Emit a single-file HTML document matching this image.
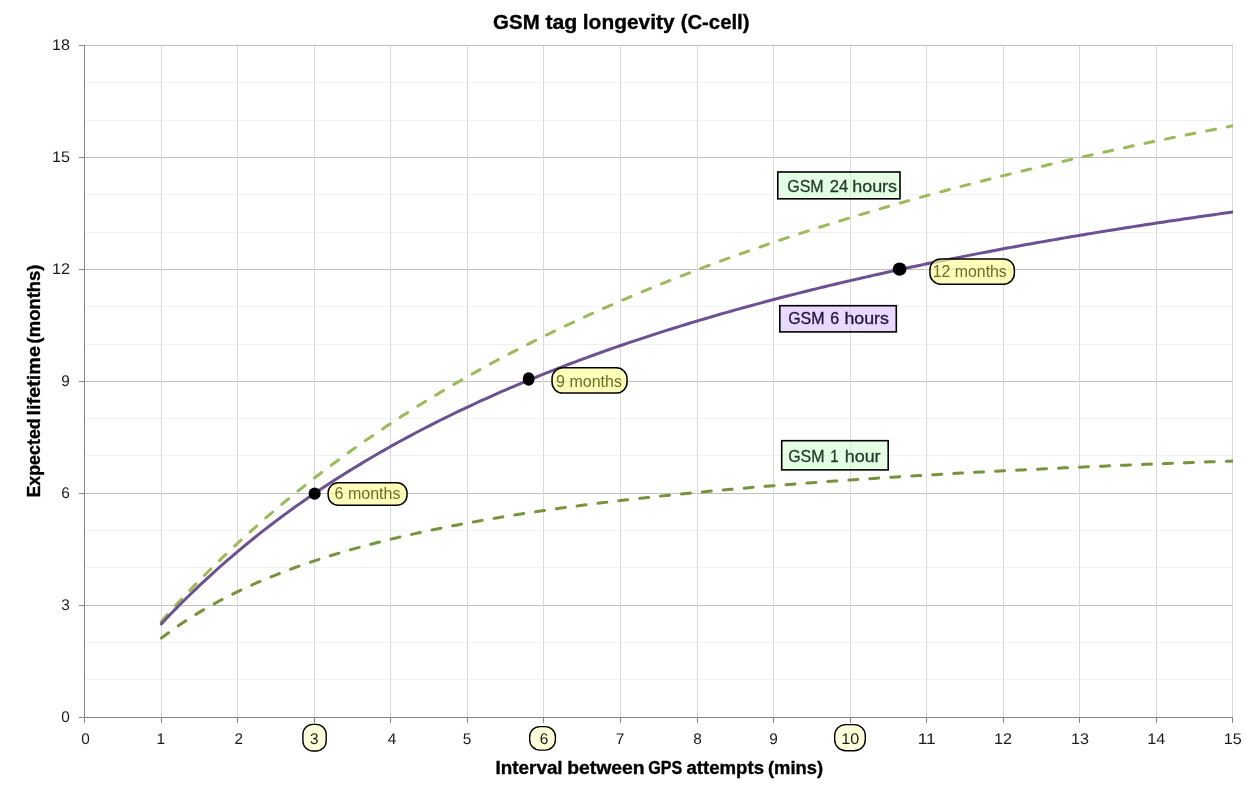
<!DOCTYPE html>
<html lang="en"><head><meta charset="utf-8"><title>GSM tag longevity (C-cell)</title>
<style>html,body{margin:0;padding:0;background:#fff;}body{width:1245px;height:803px;overflow:hidden;}svg{display:block;font-family:'Liberation Sans', sans-serif;}.tick{font-size:15.4px;fill:#1a1a1a;text-rendering:geometricPrecision;}.ttl{font-weight:bold;fill:#000;stroke:#000;stroke-width:0.35px;}.lab{font-size:16.4px;stroke-width:0.3px;}.mon{font-size:16px;fill:#6c6c2c;}</style></head><body>
<svg width="1245" height="803" viewBox="0 0 1245 803">
<rect width="1245" height="803" fill="#ffffff"/>
<g stroke="#f2f2f2" stroke-width="1" shape-rendering="crispEdges">
<line x1="84.5" y1="679.5" x2="1232.5" y2="679.5"/>
<line x1="84.5" y1="642.5" x2="1232.5" y2="642.5"/>
<line x1="84.5" y1="567.5" x2="1232.5" y2="567.5"/>
<line x1="84.5" y1="530.5" x2="1232.5" y2="530.5"/>
<line x1="84.5" y1="455.5" x2="1232.5" y2="455.5"/>
<line x1="84.5" y1="418.5" x2="1232.5" y2="418.5"/>
<line x1="84.5" y1="344.5" x2="1232.5" y2="344.5"/>
<line x1="84.5" y1="306.5" x2="1232.5" y2="306.5"/>
<line x1="84.5" y1="232.5" x2="1232.5" y2="232.5"/>
<line x1="84.5" y1="194.5" x2="1232.5" y2="194.5"/>
<line x1="84.5" y1="120.5" x2="1232.5" y2="120.5"/>
<line x1="84.5" y1="82.5" x2="1232.5" y2="82.5"/>
</g>
<g stroke="#bfbfbf" stroke-width="1" shape-rendering="crispEdges">
<line x1="84.5" y1="605.5" x2="1232.5" y2="605.5"/>
<line x1="84.5" y1="493.5" x2="1232.5" y2="493.5"/>
<line x1="84.5" y1="381.5" x2="1232.5" y2="381.5"/>
<line x1="84.5" y1="269.5" x2="1232.5" y2="269.5"/>
<line x1="84.5" y1="157.5" x2="1232.5" y2="157.5"/>
<line x1="84.5" y1="45.5" x2="1232.5" y2="45.5"/>
</g>
<g stroke="#d9d9d9" stroke-width="1" shape-rendering="crispEdges">
<line x1="161.5" y1="45.5" x2="161.5" y2="717.5"/>
<line x1="237.5" y1="45.5" x2="237.5" y2="717.5"/>
<line x1="314.5" y1="45.5" x2="314.5" y2="717.5"/>
<line x1="390.5" y1="45.5" x2="390.5" y2="717.5"/>
<line x1="467.5" y1="45.5" x2="467.5" y2="717.5"/>
<line x1="543.5" y1="45.5" x2="543.5" y2="717.5"/>
<line x1="620.5" y1="45.5" x2="620.5" y2="717.5"/>
<line x1="697.5" y1="45.5" x2="697.5" y2="717.5"/>
<line x1="773.5" y1="45.5" x2="773.5" y2="717.5"/>
<line x1="850.5" y1="45.5" x2="850.5" y2="717.5"/>
<line x1="926.5" y1="45.5" x2="926.5" y2="717.5"/>
<line x1="1003.5" y1="45.5" x2="1003.5" y2="717.5"/>
<line x1="1079.5" y1="45.5" x2="1079.5" y2="717.5"/>
<line x1="1156.5" y1="45.5" x2="1156.5" y2="717.5"/>
<line x1="1232.5" y1="45.5" x2="1232.5" y2="717.5"/>
</g>
<g stroke="#868686" stroke-width="1" shape-rendering="crispEdges">
<line x1="84.5" y1="45.5" x2="84.5" y2="722.5"/>
<line x1="79.0" y1="717.5" x2="1232.5" y2="717.5"/>
<line x1="161.5" y1="717.5" x2="161.5" y2="722.5"/>
<line x1="237.5" y1="717.5" x2="237.5" y2="722.5"/>
<line x1="314.5" y1="717.5" x2="314.5" y2="722.5"/>
<line x1="390.5" y1="717.5" x2="390.5" y2="722.5"/>
<line x1="467.5" y1="717.5" x2="467.5" y2="722.5"/>
<line x1="543.5" y1="717.5" x2="543.5" y2="722.5"/>
<line x1="620.5" y1="717.5" x2="620.5" y2="722.5"/>
<line x1="697.5" y1="717.5" x2="697.5" y2="722.5"/>
<line x1="773.5" y1="717.5" x2="773.5" y2="722.5"/>
<line x1="850.5" y1="717.5" x2="850.5" y2="722.5"/>
<line x1="926.5" y1="717.5" x2="926.5" y2="722.5"/>
<line x1="1003.5" y1="717.5" x2="1003.5" y2="722.5"/>
<line x1="1079.5" y1="717.5" x2="1079.5" y2="722.5"/>
<line x1="1156.5" y1="717.5" x2="1156.5" y2="722.5"/>
<line x1="1232.5" y1="717.5" x2="1232.5" y2="722.5"/>
<line x1="79.0" y1="605.5" x2="84.5" y2="605.5"/>
<line x1="79.0" y1="493.5" x2="84.5" y2="493.5"/>
<line x1="79.0" y1="381.5" x2="84.5" y2="381.5"/>
<line x1="79.0" y1="269.5" x2="84.5" y2="269.5"/>
<line x1="79.0" y1="157.5" x2="84.5" y2="157.5"/>
<line x1="79.0" y1="45.5" x2="84.5" y2="45.5"/>
</g>
<clipPath id="pc"><rect x="84.5" y="40.5" width="1148.5" height="682.0"/></clipPath>
<g fill="none" clip-path="url(#pc)" stroke-linejoin="round">
<path d="M161.35 638.13 L165.18 635.24 L169.00 632.41 L172.83 629.66 L176.66 626.97 L180.49 624.35 L184.31 621.79 L188.14 619.30 L191.97 616.86 L195.80 614.48 L199.62 612.15 L203.45 609.88 L207.28 607.66 L211.11 605.49 L214.94 603.36 L218.76 601.28 L222.59 599.25 L226.42 597.26 L230.25 595.31 L234.07 593.40 L237.90 591.54 L241.73 589.71 L245.56 587.91 L249.38 586.16 L253.21 584.43 L257.04 582.74 L260.86 581.09 L264.69 579.46 L268.52 577.87 L272.35 576.31 L276.18 574.78 L280.00 573.27 L283.83 571.79 L287.66 570.34 L291.49 568.92 L295.31 567.52 L299.14 566.14 L302.97 564.79 L306.79 563.47 L310.62 562.16 L314.45 560.88 L318.28 559.62 L322.11 558.38 L325.93 557.17 L329.76 555.97 L333.59 554.79 L337.41 553.63 L341.24 552.49 L345.07 551.37 L348.90 550.27 L352.73 549.18 L356.55 548.11 L360.38 547.06 L364.21 546.02 L368.04 545.00 L371.86 543.99 L375.69 543.00 L379.52 542.03 L383.34 541.07 L387.17 540.12 L391.00 539.19 L394.83 538.27 L398.65 537.36 L402.48 536.47 L406.31 535.59 L410.14 534.72 L413.96 533.86 L417.79 533.02 L421.62 532.19 L425.45 531.36 L429.27 530.55 L433.10 529.76 L436.93 528.97 L440.76 528.19 L444.59 527.42 L448.41 526.67 L452.24 525.92 L456.07 525.18 L459.90 524.45 L463.72 523.73 L467.55 523.02 L471.38 522.32 L475.20 521.63 L479.03 520.95 L482.86 520.27 L486.69 519.61 L490.51 518.95 L494.34 518.30 L498.17 517.66 L502.00 517.02 L505.82 516.39 L509.65 515.77 L513.48 515.16 L517.31 514.56 L521.13 513.96 L524.96 513.37 L528.79 512.78 L532.62 512.21 L536.45 511.64 L540.27 511.07 L544.10 510.51 L547.93 509.96 L551.75 509.42 L555.58 508.88 L559.41 508.34 L563.24 507.82 L567.06 507.30 L570.89 506.78 L574.72 506.27 L578.55 505.76 L582.38 505.26 L586.20 504.77 L590.03 504.28 L593.86 503.80 L597.68 503.32 L601.51 502.84 L605.34 502.37 L609.17 501.91 L613.00 501.45 L616.82 501.00 L620.65 500.55 L624.48 500.10 L628.30 499.66 L632.13 499.22 L635.96 498.79 L639.79 498.36 L643.61 497.94 L647.44 497.52 L651.27 497.10 L655.10 496.69 L658.92 496.29 L662.75 495.88 L666.58 495.48 L670.41 495.09 L674.23 494.69 L678.06 494.31 L681.89 493.92 L685.72 493.54 L689.54 493.16 L693.37 492.79 L697.20 492.42 L701.03 492.05 L704.85 491.69 L708.68 491.33 L712.51 490.97 L716.34 490.61 L720.16 490.26 L723.99 489.92 L727.82 489.57 L731.65 489.23 L735.47 488.89 L739.30 488.55 L743.13 488.22 L746.96 487.89 L750.78 487.56 L754.61 487.24 L758.44 486.92 L762.27 486.60 L766.09 486.28 L769.92 485.97 L773.75 485.66 L777.58 485.35 L781.40 485.05 L785.23 484.74 L789.06 484.44 L792.89 484.15 L796.72 483.85 L800.54 483.56 L804.37 483.27 L808.20 482.98 L812.02 482.69 L815.85 482.41 L819.68 482.13 L823.51 481.85 L827.33 481.57 L831.16 481.30 L834.99 481.02 L838.82 480.75 L842.64 480.49 L846.47 480.22 L850.30 479.96 L854.13 479.69 L857.95 479.43 L861.78 479.18 L865.61 478.92 L869.44 478.67 L873.26 478.41 L877.09 478.16 L880.92 477.92 L884.75 477.67 L888.57 477.42 L892.40 477.18 L896.23 476.94 L900.06 476.70 L903.88 476.46 L907.71 476.23 L911.54 475.99 L915.37 475.76 L919.19 475.53 L923.02 475.30 L926.85 475.08 L930.68 474.85 L934.50 474.63 L938.33 474.40 L942.16 474.18 L945.99 473.96 L949.81 473.75 L953.64 473.53 L957.47 473.32 L961.30 473.10 L965.12 472.89 L968.95 472.68 L972.78 472.47 L976.61 472.26 L980.43 472.06 L984.26 471.85 L988.09 471.65 L991.92 471.45 L995.75 471.25 L999.57 471.05 L1003.40 470.85 L1007.23 470.66 L1011.05 470.46 L1014.88 470.27 L1018.71 470.08 L1022.54 469.88 L1026.37 469.69 L1030.19 469.51 L1034.02 469.32 L1037.85 469.13 L1041.67 468.95 L1045.50 468.76 L1049.33 468.58 L1053.16 468.40 L1056.98 468.22 L1060.81 468.04 L1064.64 467.86 L1068.47 467.69 L1072.30 467.51 L1076.12 467.34 L1079.95 467.16 L1083.78 466.99 L1087.61 466.82 L1091.43 466.65 L1095.26 466.48 L1099.09 466.31 L1102.91 466.15 L1106.74 465.98 L1110.57 465.81 L1114.40 465.65 L1118.22 465.49 L1122.05 465.33 L1125.88 465.16 L1129.71 465.00 L1133.53 464.85 L1137.36 464.69 L1141.19 464.53 L1145.02 464.37 L1148.85 464.22 L1152.67 464.06 L1156.50 463.91 L1160.33 463.76 L1164.15 463.61 L1167.98 463.46 L1171.81 463.31 L1175.64 463.16 L1179.46 463.01 L1183.29 462.86 L1187.12 462.72 L1190.95 462.57 L1194.77 462.43 L1198.60 462.28 L1202.43 462.14 L1206.26 462.00 L1210.08 461.86 L1213.91 461.72 L1217.74 461.58 L1221.57 461.44 L1225.39 461.30 L1229.22 461.16 L1233.05 461.02" stroke="#77933c" stroke-width="3" stroke-linecap="round" stroke-dasharray="9 12"/>
<path d="M161.35 621.26 L165.18 616.97 L169.00 612.72 L172.83 608.51 L176.66 604.34 L180.49 600.22 L184.31 596.14 L188.14 592.10 L191.97 588.09 L195.80 584.13 L199.62 580.21 L203.45 576.32 L207.28 572.47 L211.11 568.66 L214.94 564.89 L218.76 561.15 L222.59 557.44 L226.42 553.78 L230.25 550.14 L234.07 546.54 L237.90 542.98 L241.73 539.44 L245.56 535.94 L249.38 532.47 L253.21 529.04 L257.04 525.63 L260.86 522.26 L264.69 518.92 L268.52 515.60 L272.35 512.32 L276.18 509.06 L280.00 505.84 L283.83 502.64 L287.66 499.47 L291.49 496.33 L295.31 493.22 L299.14 490.13 L302.97 487.07 L306.79 484.03 L310.62 481.03 L314.45 478.04 L318.28 475.09 L322.11 472.15 L325.93 469.25 L329.76 466.36 L333.59 463.50 L337.41 460.67 L341.24 457.86 L345.07 455.07 L348.90 452.30 L352.73 449.56 L356.55 446.84 L360.38 444.14 L364.21 441.46 L368.04 438.81 L371.86 436.18 L375.69 433.56 L379.52 430.97 L383.34 428.40 L387.17 425.85 L391.00 423.32 L394.83 420.81 L398.65 418.31 L402.48 415.84 L406.31 413.39 L410.14 410.95 L413.96 408.54 L417.79 406.14 L421.62 403.76 L425.45 401.40 L429.27 399.06 L433.10 396.73 L436.93 394.42 L440.76 392.13 L444.59 389.86 L448.41 387.60 L452.24 385.36 L456.07 383.14 L459.90 380.93 L463.72 378.74 L467.55 376.57 L471.38 374.41 L475.20 372.26 L479.03 370.13 L482.86 368.02 L486.69 365.92 L490.51 363.84 L494.34 361.77 L498.17 359.72 L502.00 357.68 L505.82 355.66 L509.65 353.64 L513.48 351.65 L517.31 349.67 L521.13 347.70 L524.96 345.74 L528.79 343.80 L532.62 341.87 L536.45 339.96 L540.27 338.05 L544.10 336.16 L547.93 334.29 L551.75 332.42 L555.58 330.57 L559.41 328.73 L563.24 326.91 L567.06 325.09 L570.89 323.29 L574.72 321.50 L578.55 319.72 L582.38 317.95 L586.20 316.20 L590.03 314.46 L593.86 312.72 L597.68 311.00 L601.51 309.29 L605.34 307.59 L609.17 305.90 L613.00 304.23 L616.82 302.56 L620.65 300.90 L624.48 299.26 L628.30 297.62 L632.13 296.00 L635.96 294.38 L639.79 292.78 L643.61 291.18 L647.44 289.60 L651.27 288.02 L655.10 286.46 L658.92 284.90 L662.75 283.36 L666.58 281.82 L670.41 280.29 L674.23 278.77 L678.06 277.27 L681.89 275.77 L685.72 274.28 L689.54 272.79 L693.37 271.32 L697.20 269.86 L701.03 268.40 L704.85 266.96 L708.68 265.52 L712.51 264.09 L716.34 262.67 L720.16 261.26 L723.99 259.85 L727.82 258.46 L731.65 257.07 L735.47 255.69 L739.30 254.32 L743.13 252.95 L746.96 251.60 L750.78 250.25 L754.61 248.91 L758.44 247.57 L762.27 246.25 L766.09 244.93 L769.92 243.62 L773.75 242.32 L777.58 241.02 L781.40 239.73 L785.23 238.45 L789.06 237.18 L792.89 235.91 L796.72 234.65 L800.54 233.40 L804.37 232.15 L808.20 230.91 L812.02 229.68 L815.85 228.45 L819.68 227.23 L823.51 226.02 L827.33 224.82 L831.16 223.62 L834.99 222.42 L838.82 221.24 L842.64 220.06 L846.47 218.88 L850.30 217.72 L854.13 216.56 L857.95 215.40 L861.78 214.25 L865.61 213.11 L869.44 211.97 L873.26 210.84 L877.09 209.72 L880.92 208.60 L884.75 207.48 L888.57 206.38 L892.40 205.27 L896.23 204.18 L900.06 203.09 L903.88 202.00 L907.71 200.92 L911.54 199.85 L915.37 198.78 L919.19 197.72 L923.02 196.66 L926.85 195.61 L930.68 194.56 L934.50 193.52 L938.33 192.49 L942.16 191.46 L945.99 190.43 L949.81 189.41 L953.64 188.39 L957.47 187.38 L961.30 186.38 L965.12 185.38 L968.95 184.38 L972.78 183.39 L976.61 182.41 L980.43 181.43 L984.26 180.45 L988.09 179.48 L991.92 178.51 L995.75 177.55 L999.57 176.59 L1003.40 175.64 L1007.23 174.69 L1011.05 173.75 L1014.88 172.81 L1018.71 171.87 L1022.54 170.94 L1026.37 170.02 L1030.19 169.10 L1034.02 168.18 L1037.85 167.27 L1041.67 166.36 L1045.50 165.45 L1049.33 164.55 L1053.16 163.66 L1056.98 162.77 L1060.81 161.88 L1064.64 161.00 L1068.47 160.12 L1072.30 159.24 L1076.12 158.37 L1079.95 157.51 L1083.78 156.64 L1087.61 155.78 L1091.43 154.93 L1095.26 154.08 L1099.09 153.23 L1102.91 152.39 L1106.74 151.55 L1110.57 150.71 L1114.40 149.88 L1118.22 149.05 L1122.05 148.23 L1125.88 147.41 L1129.71 146.59 L1133.53 145.77 L1137.36 144.96 L1141.19 144.16 L1145.02 143.36 L1148.85 142.56 L1152.67 141.76 L1156.50 140.97 L1160.33 140.18 L1164.15 139.39 L1167.98 138.61 L1171.81 137.83 L1175.64 137.06 L1179.46 136.29 L1183.29 135.52 L1187.12 134.75 L1190.95 133.99 L1194.77 133.23 L1198.60 132.48 L1202.43 131.73 L1206.26 130.98 L1210.08 130.23 L1213.91 129.49 L1217.74 128.75 L1221.57 128.01 L1225.39 127.28 L1229.22 126.55 L1233.05 125.82" stroke="#9bbb59" stroke-width="3" stroke-linecap="round" stroke-dasharray="9 12"/>
<path d="M161.35 623.86 L165.18 619.80 L169.00 615.79 L172.83 611.83 L176.66 607.92 L180.49 604.05 L184.31 600.24 L188.14 596.47 L191.97 592.74 L195.80 589.06 L199.62 585.43 L203.45 581.84 L207.28 578.29 L211.11 574.78 L214.94 571.31 L218.76 567.89 L222.59 564.50 L226.42 561.15 L230.25 557.84 L234.07 554.57 L237.90 551.33 L241.73 548.13 L245.56 544.97 L249.38 541.84 L253.21 538.74 L257.04 535.68 L260.86 532.66 L264.69 529.66 L268.52 526.70 L272.35 523.77 L276.18 520.87 L280.00 518.00 L283.83 515.16 L287.66 512.36 L291.49 509.58 L295.31 506.83 L299.14 504.11 L302.97 501.41 L306.79 498.75 L310.62 496.11 L314.45 493.50 L318.28 490.91 L322.11 488.35 L325.93 485.82 L329.76 483.31 L333.59 480.82 L337.41 478.36 L341.24 475.93 L345.07 473.51 L348.90 471.13 L352.73 468.76 L356.55 466.42 L360.38 464.10 L364.21 461.80 L368.04 459.52 L371.86 457.27 L375.69 455.03 L379.52 452.82 L383.34 450.63 L387.17 448.45 L391.00 446.30 L394.83 444.17 L398.65 442.05 L402.48 439.96 L406.31 437.88 L410.14 435.83 L413.96 433.79 L417.79 431.77 L421.62 429.77 L425.45 427.78 L429.27 425.82 L433.10 423.87 L436.93 421.93 L440.76 420.02 L444.59 418.12 L448.41 416.23 L452.24 414.37 L456.07 412.52 L459.90 410.68 L463.72 408.86 L467.55 407.06 L471.38 405.27 L475.20 403.49 L479.03 401.73 L482.86 399.99 L486.69 398.26 L490.51 396.54 L494.34 394.84 L498.17 393.15 L502.00 391.47 L505.82 389.81 L509.65 388.17 L513.48 386.53 L517.31 384.91 L521.13 383.30 L524.96 381.70 L528.79 380.12 L532.62 378.55 L536.45 376.99 L540.27 375.44 L544.10 373.91 L547.93 372.39 L551.75 370.88 L555.58 369.38 L559.41 367.89 L563.24 366.41 L567.06 364.95 L570.89 363.49 L574.72 362.05 L578.55 360.62 L582.38 359.20 L586.20 357.79 L590.03 356.38 L593.86 354.99 L597.68 353.61 L601.51 352.24 L605.34 350.88 L609.17 349.53 L613.00 348.19 L616.82 346.86 L620.65 345.54 L624.48 344.23 L628.30 342.93 L632.13 341.64 L635.96 340.35 L639.79 339.08 L643.61 337.81 L647.44 336.56 L651.27 335.31 L655.10 334.07 L658.92 332.84 L662.75 331.62 L666.58 330.40 L670.41 329.20 L674.23 328.00 L678.06 326.81 L681.89 325.63 L685.72 324.46 L689.54 323.30 L693.37 322.14 L697.20 320.99 L701.03 319.85 L704.85 318.72 L708.68 317.59 L712.51 316.47 L716.34 315.36 L720.16 314.26 L723.99 313.16 L727.82 312.07 L731.65 310.99 L735.47 309.91 L739.30 308.84 L743.13 307.78 L746.96 306.73 L750.78 305.68 L754.61 304.64 L758.44 303.60 L762.27 302.58 L766.09 301.56 L769.92 300.54 L773.75 299.53 L777.58 298.53 L781.40 297.53 L785.23 296.54 L789.06 295.56 L792.89 294.58 L796.72 293.61 L800.54 292.65 L804.37 291.69 L808.20 290.73 L812.02 289.79 L815.85 288.84 L819.68 287.91 L823.51 286.98 L827.33 286.05 L831.16 285.13 L834.99 284.22 L838.82 283.31 L842.64 282.41 L846.47 281.51 L850.30 280.62 L854.13 279.73 L857.95 278.85 L861.78 277.97 L865.61 277.10 L869.44 276.23 L873.26 275.37 L877.09 274.52 L880.92 273.67 L884.75 272.82 L888.57 271.98 L892.40 271.14 L896.23 270.31 L900.06 269.48 L903.88 268.66 L907.71 267.84 L911.54 267.03 L915.37 266.22 L919.19 265.41 L923.02 264.62 L926.85 263.82 L930.68 263.03 L934.50 262.24 L938.33 261.46 L942.16 260.68 L945.99 259.91 L949.81 259.14 L953.64 258.38 L957.47 257.62 L961.30 256.86 L965.12 256.11 L968.95 255.36 L972.78 254.61 L976.61 253.87 L980.43 253.14 L984.26 252.41 L988.09 251.68 L991.92 250.95 L995.75 250.23 L999.57 249.52 L1003.40 248.80 L1007.23 248.09 L1011.05 247.39 L1014.88 246.69 L1018.71 245.99 L1022.54 245.29 L1026.37 244.60 L1030.19 243.92 L1034.02 243.23 L1037.85 242.55 L1041.67 241.87 L1045.50 241.20 L1049.33 240.53 L1053.16 239.87 L1056.98 239.20 L1060.81 238.54 L1064.64 237.89 L1068.47 237.23 L1072.30 236.59 L1076.12 235.94 L1079.95 235.30 L1083.78 234.66 L1087.61 234.02 L1091.43 233.39 L1095.26 232.76 L1099.09 232.13 L1102.91 231.51 L1106.74 230.88 L1110.57 230.27 L1114.40 229.65 L1118.22 229.04 L1122.05 228.43 L1125.88 227.83 L1129.71 227.22 L1133.53 226.62 L1137.36 226.03 L1141.19 225.43 L1145.02 224.84 L1148.85 224.25 L1152.67 223.67 L1156.50 223.08 L1160.33 222.50 L1164.15 221.93 L1167.98 221.35 L1171.81 220.78 L1175.64 220.21 L1179.46 219.65 L1183.29 219.08 L1187.12 218.52 L1190.95 217.96 L1194.77 217.41 L1198.60 216.85 L1202.43 216.30 L1206.26 215.76 L1210.08 215.21 L1213.91 214.67 L1217.74 214.13 L1221.57 213.59 L1225.39 213.05 L1229.22 212.52 L1233.05 211.99" stroke="#6b5092" stroke-width="3" stroke-linecap="round"/>
</g>
<ellipse cx="314.65" cy="493.65" rx="6.05" ry="6.15" fill="#000"/>
<ellipse cx="528.65" cy="379.0" rx="5.95" ry="6.7" fill="#000"/>
<ellipse cx="899.6" cy="269.1" rx="6.9" ry="6.7" fill="#000"/>
<rect x="777.80" y="172.00" width="122.20" height="26.80" rx="0.0" ry="0.0" fill="#ccffcc" fill-opacity="0.50" stroke="#000" stroke-width="1.60"/>
<text y="192.00" class="lab" fill="#213f2a" stroke="#213f2a"><tspan x="787.25" textLength="36.45" lengthAdjust="spacingAndGlyphs">GSM</tspan> <tspan x="829.80" textLength="18.40" lengthAdjust="spacingAndGlyphs">24</tspan> <tspan x="852.20" textLength="44.90" lengthAdjust="spacingAndGlyphs">hours</tspan></text>
<rect x="779.80" y="305.70" width="116.50" height="26.20" rx="0.0" ry="0.0" fill="#d4b3ff" fill-opacity="0.50" stroke="#000" stroke-width="1.60"/>
<text y="323.70" class="lab" fill="#26143f" stroke="#26143f"><tspan x="788.20" textLength="36.40" lengthAdjust="spacingAndGlyphs">GSM</tspan> <tspan x="830.30" textLength="8.90" lengthAdjust="spacingAndGlyphs">6</tspan> <tspan x="844.40" textLength="44.50" lengthAdjust="spacingAndGlyphs">hours</tspan></text>
<rect x="781.70" y="440.70" width="106.50" height="29.20" rx="0.0" ry="0.0" fill="#ccffcc" fill-opacity="0.50" stroke="#000" stroke-width="1.60"/>
<text y="461.50" class="lab" fill="#213f2a" stroke="#213f2a"><tspan x="788.20" textLength="36.40" lengthAdjust="spacingAndGlyphs">GSM</tspan> <tspan x="830.30" textLength="8.30" lengthAdjust="spacingAndGlyphs">1</tspan> <tspan x="844.70" textLength="35.90" lengthAdjust="spacingAndGlyphs">hour</tspan></text>
<rect x="328.15" y="482.75" width="78.90" height="22.50" rx="10.0" ry="10.0" fill="#ffff99" fill-opacity="0.68" stroke="#000" stroke-width="1.50"/>
<text x="334.60" y="498.70" class="mon" text-anchor="start" textLength="65.8" lengthAdjust="spacingAndGlyphs">6 months</text>
<rect x="552.05" y="367.85" width="75.00" height="25.20" rx="10.7" ry="10.7" fill="#ffff99" fill-opacity="0.68" stroke="#000" stroke-width="1.50"/>
<text x="556.10" y="386.80" class="mon" text-anchor="start" textLength="65.8" lengthAdjust="spacingAndGlyphs">9 months</text>
<rect x="929.95" y="258.95" width="84.40" height="25.20" rx="10.7" ry="10.7" fill="#ffff99" fill-opacity="0.68" stroke="#000" stroke-width="1.50"/>
<text x="932.80" y="277.00" class="mon" text-anchor="start" textLength="74.0" lengthAdjust="spacingAndGlyphs">12 months</text>
<rect x="302.90" y="724.40" width="23.30" height="26.60" rx="10.0" ry="10.0" fill="#ffffb3" fill-opacity="0.50" stroke="#000" stroke-width="1.40"/>
<rect x="529.70" y="726.60" width="25.70" height="23.50" rx="10.2" ry="10.2" fill="#ffffb3" fill-opacity="0.50" stroke="#000" stroke-width="1.40"/>
<rect x="834.70" y="724.60" width="30.60" height="26.20" rx="11.0" ry="11.0" fill="#ffffb3" fill-opacity="0.50" stroke="#000" stroke-width="1.40"/>
<text x="85.60" y="744.00" class="tick" text-anchor="middle">0</text>
<text x="160.85" y="744.00" class="tick" text-anchor="middle">1</text>
<text x="238.85" y="744.00" class="tick" text-anchor="middle">2</text>
<text x="314.30" y="744.00" class="tick" text-anchor="middle">3</text>
<text x="392.00" y="744.00" class="tick" text-anchor="middle">4</text>
<text x="467.15" y="744.00" class="tick" text-anchor="middle">5</text>
<text x="544.10" y="744.00" class="tick" text-anchor="middle">6</text>
<text x="620.15" y="744.00" class="tick" text-anchor="middle">7</text>
<text x="697.50" y="744.00" class="tick" text-anchor="middle">8</text>
<text x="773.50" y="744.00" class="tick" text-anchor="middle">9</text>
<text x="850.20" y="744.00" class="tick" text-anchor="middle" textLength="18.0" lengthAdjust="spacingAndGlyphs">10</text>
<text x="926.65" y="744.00" class="tick" text-anchor="middle" textLength="18.0" lengthAdjust="spacingAndGlyphs">11</text>
<text x="1003.00" y="744.00" class="tick" text-anchor="middle" textLength="18.0" lengthAdjust="spacingAndGlyphs">12</text>
<text x="1079.90" y="744.00" class="tick" text-anchor="middle" textLength="18.0" lengthAdjust="spacingAndGlyphs">13</text>
<text x="1156.15" y="744.00" class="tick" text-anchor="middle" textLength="18.0" lengthAdjust="spacingAndGlyphs">14</text>
<text x="1232.80" y="744.00" class="tick" text-anchor="middle" textLength="18.0" lengthAdjust="spacingAndGlyphs">15</text>
<text x="69.90" y="722.00" class="tick" text-anchor="end">0</text>
<text x="69.90" y="610.00" class="tick" text-anchor="end">3</text>
<text x="69.90" y="498.00" class="tick" text-anchor="end">6</text>
<text x="69.90" y="386.00" class="tick" text-anchor="end">9</text>
<text x="69.90" y="274.00" class="tick" text-anchor="end" textLength="18.0" lengthAdjust="spacingAndGlyphs">12</text>
<text x="69.90" y="162.00" class="tick" text-anchor="end" textLength="18.0" lengthAdjust="spacingAndGlyphs">15</text>
<text x="69.90" y="50.00" class="tick" text-anchor="end" textLength="18.0" lengthAdjust="spacingAndGlyphs">18</text>
<text y="28.80" class="ttl" font-size="20.5px"><tspan x="493.10" textLength="46.60" lengthAdjust="spacingAndGlyphs">GSM</tspan> <tspan x="545.40" textLength="31.90" lengthAdjust="spacingAndGlyphs">tag</tspan> <tspan x="582.80" textLength="91.80" lengthAdjust="spacingAndGlyphs">longevity</tspan> <tspan x="680.70" textLength="68.80" lengthAdjust="spacingAndGlyphs">(C-cell)</tspan></text>
<text y="773.70" class="ttl" font-size="18.0px"><tspan x="495.60" textLength="67.00" lengthAdjust="spacingAndGlyphs">Interval</tspan> <tspan x="567.20" textLength="77.50" lengthAdjust="spacingAndGlyphs">between</tspan> <tspan x="648.30" textLength="33.90" lengthAdjust="spacingAndGlyphs">GPS</tspan> <tspan x="686.40" textLength="77.60" lengthAdjust="spacingAndGlyphs">attempts</tspan> <tspan x="768.00" textLength="55.10" lengthAdjust="spacingAndGlyphs">(mins)</tspan></text>
<text transform="translate(40.30 0) rotate(-90)" y="0" class="ttl" font-size="18.0px"><tspan x="-497.60" textLength="79.30" lengthAdjust="spacingAndGlyphs">Expected</tspan> <tspan x="-415.50" textLength="69.50" lengthAdjust="spacingAndGlyphs">lifetime</tspan> <tspan x="-343.40" textLength="78.80" lengthAdjust="spacingAndGlyphs">(months)</tspan></text>
</svg></body></html>
